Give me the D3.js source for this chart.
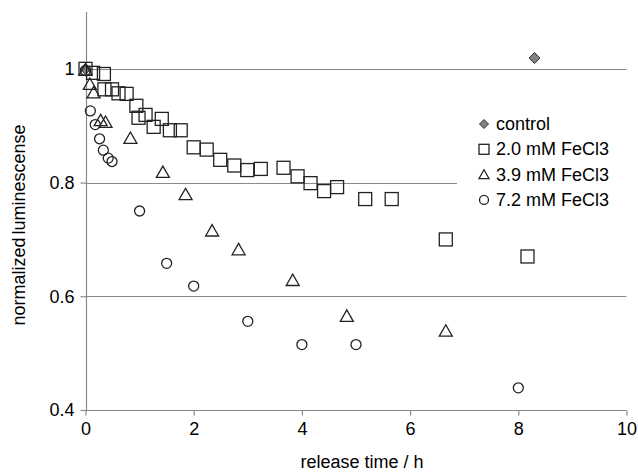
<!DOCTYPE html>
<html><head><meta charset="utf-8">
<script src="https://cdn.jsdelivr.net/npm/d3@7"></script>
<style>body{margin:0;background:#fff}svg{display:block}text{font-family:"Liberation Sans",Arial,sans-serif;fill:#000}</style>
</head><body><svg id="c" width="638" height="476"></svg>
<script>
const xTicks = [0, 2, 4, 6, 8, 10];
const yTicks = [0.4, 0.6, 0.8, 1];
const gridValues = [0.6, 0.8, 1];
const seriesNames = ["control", "2.0 mM FeCl3", "3.9 mM FeCl3", "7.2 mM FeCl3"];
const control = [[0, 1.0], [8.3, 1.019]];
const fe20 = [[0,1.00],[0.14,0.993],[0.34,0.991],[0.35,0.964],[0.49,0.964],[0.61,0.957],[0.76,0.956],[0.94,0.935],[0.98,0.914],[1.11,0.919],[1.26,0.898],[1.41,0.912],[1.56,0.892],[1.76,0.892],[2.0,0.862],[2.24,0.858],[2.49,0.840],[2.75,0.830],[2.99,0.822],[3.24,0.824],[3.66,0.826],[3.92,0.811],[4.16,0.799],[4.41,0.785],[4.65,0.792],[5.17,0.771],[5.66,0.771],[6.66,0.700],[8.17,0.670]];
const fe39 = [[0,0.998],[0.08,0.973],[0.15,0.958],[0.28,0.909],[0.37,0.906],[0.83,0.878],[1.43,0.818],[1.85,0.779],[2.34,0.715],[2.83,0.682],[3.83,0.628],[4.83,0.565],[6.66,0.539]];
const fe72 = [[0,0.997],[0.09,0.926],[0.18,0.902],[0.26,0.877],[0.33,0.857],[0.42,0.843],[0.49,0.837],[1.0,0.750],[1.5,0.658],[2.0,0.618],[3.0,0.556],[4.0,0.515],[5.0,0.515],[8.0,0.439]];

const svg = d3.select("#c");
const x = d3.scaleLinear().domain([0, 10]).range([85.5, 626.5]);
const y = d3.scaleLinear().domain([0.4, 1.1]).range([410, 12]);
const gray = "#8a8a8a";

svg.append("g").selectAll("line").data(gridValues).join("line")
  .attr("x1", x(0)).attr("x2", x(10))
  .attr("y1", d => Math.round(y(d)) + 0.5).attr("y2", d => Math.round(y(d)) + 0.5)
  .attr("stroke", gray).attr("stroke-width", 1.2);

const legX = 457, legY = 106;
svg.append("rect").attr("x", legX).attr("y", legY).attr("width", 172).attr("height", 108).attr("fill", "#fff");

const xAxis = d3.axisBottom(x).tickValues(xTicks).tickSize(5).tickPadding(7).tickFormat(d3.format("d"));
const gx = svg.append("g").attr("transform", `translate(0,${Math.round(y(0.4)) + 0.5})`).call(xAxis);
const yAxis = d3.axisLeft(y).tickValues(yTicks).tickSize(6).tickPadding(6).tickFormat(d => d === 1 ? "1" : d3.format(".1f")(d));
const gy = svg.append("g").attr("transform", `translate(${Math.round(x(0)) + 0.5},0)`).call(yAxis);
[gx, gy].forEach(g => {
  g.select(".domain").attr("stroke", gray).attr("stroke-width", 1.2);
  g.selectAll(".tick line").attr("stroke", gray).attr("stroke-width", 1.2);
  g.selectAll(".tick text").attr("font-size", 18).attr("font-family", '"Liberation Sans",Arial,sans-serif').attr("fill", "#000");
});
gy.select(".domain").attr("d", `M0,${y(1.1)}V${y(0.4)}`);
gx.select(".domain").attr("d", `M${x(0)},0H${x(10)}`);

svg.append("text").attr("x", 362).attr("y", 468).attr("text-anchor", "middle").attr("font-size", 18).text("release time / h");
svg.append("text").attr("transform", "translate(25,225) rotate(-90)").attr("text-anchor", "middle").attr("font-size", 18).attr("word-spacing", -2).text("normalized luminescense");

function marker(g, type, s) {
  if (type === 0) {
    g.append("path").attr("d", `M0,${-s}L${s},0L0,${s}L${-s},0Z`).attr("fill", "#808080").attr("stroke", "#333").attr("stroke-width", 1);
  } else if (type === 1) {
    g.append("rect").attr("x", -s).attr("y", -s).attr("width", 2 * s).attr("height", 2 * s).attr("fill", "none").attr("stroke", "#222").attr("stroke-width", 1.3);
  } else if (type === 2) {
    const h = s * 1.75;
    g.append("path").attr("d", `M0,${-h * 0.55}L${s},${h * 0.45}L${-s},${h * 0.45}Z`).attr("fill", "none").attr("stroke", "#222").attr("stroke-width", 1.3);
  } else {
    g.append("circle").attr("r", s).attr("fill", "none").attr("stroke", "#222").attr("stroke-width", 1.3);
  }
}
const allSeries = [control, fe20, fe39, fe72];
const sizes = [5.5, 6.5, 6.5, 5];
allSeries.forEach((data, i) => {
  svg.append("g").selectAll("g").data(data).join("g")
    .attr("transform", d => `translate(${x(d[0])},${y(d[1])})`)
    .each(function () { marker(d3.select(this), i, sizes[i]); });
});

const legSizes = [4.5, 5, 5, 4.5];
seriesNames.forEach((n, i) => {
  const cy = 124 + i * 25.3;
  const g = svg.append("g").attr("transform", `translate(484,${cy})`);
  marker(g, i, legSizes[i]);
  svg.append("text").attr("x", 496).attr("y", cy + 6).attr("font-size", 18).text(n);
});
</script></body></html>
